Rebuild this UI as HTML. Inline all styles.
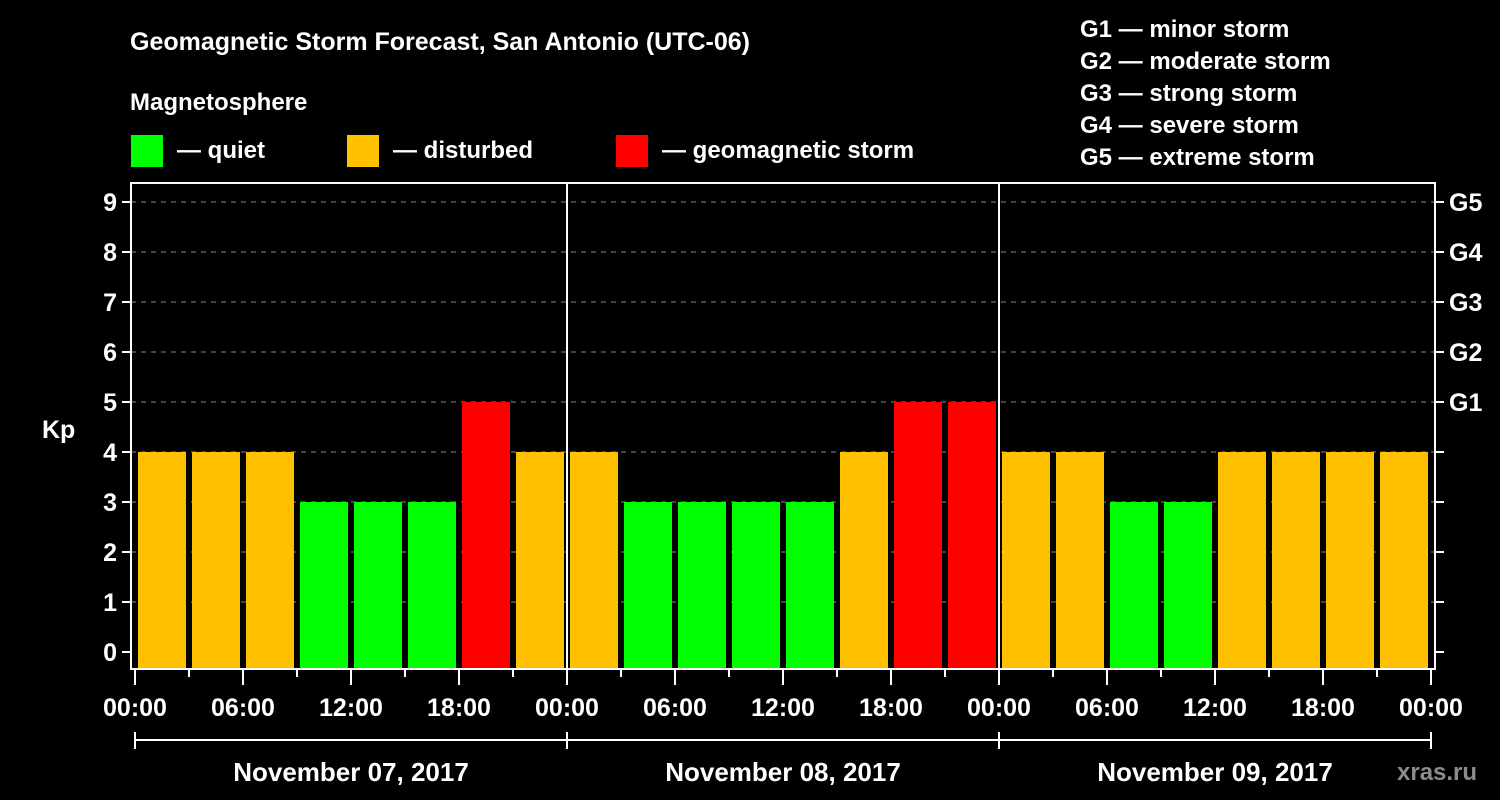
<!DOCTYPE html>
<html><head><meta charset="utf-8"><style>
body{margin:0;background:#000;width:1500px;height:800px;overflow:hidden}
svg{display:block}
text{font-family:"Liberation Sans",sans-serif;font-weight:bold;fill:#fff}
</style></head><body>
<svg id="c" width="1500" height="800">
<text x="130" y="50" font-size="25">Geomagnetic Storm Forecast, San Antonio (UTC-06)</text>
<text x="130" y="110" font-size="24">Magnetosphere</text>
<g><rect x="131" y="135" width="32" height="32" fill="#00ff00"/><text x="177" y="158" font-size="24">— quiet</text></g>
<g><rect x="347" y="135" width="32" height="32" fill="#ffc000"/><text x="393" y="158" font-size="24">— disturbed</text></g>
<g><rect x="616" y="135" width="32" height="32" fill="#ff0000"/><text x="662" y="158" font-size="24">— geomagnetic storm</text></g>
<g font-size="24">
<text x="1080" y="37">G1 — minor storm</text>
<text x="1080" y="69">G2 — moderate storm</text>
<text x="1080" y="101">G3 — strong storm</text>
<text x="1080" y="133">G4 — severe storm</text>
<text x="1080" y="165">G5 — extreme storm</text>
</g>
<text x="42" y="438" font-size="25">Kp</text>
<text x="1397" y="780" font-size="24" fill="#999" style="fill:#8c8c8c">xras.ru</text>
<g id="grid"></g><g id="bars"></g><g id="axes"></g>
</svg>
<script>
const kpValues=[4,4,4,3,3,3,5,4, 4,3,3,3,3,4,5,5, 4,4,3,3,4,4,4,4];
const dayLabels=["November 07, 2017","November 08, 2017","November 09, 2017"];
const hourLabels=["00:00","06:00","12:00","18:00"];
const gLabels=["G1","G2","G3","G4","G5"];
const NS="http://www.w3.org/2000/svg";
const X0=135,DAY=432,SLOT=DAY/8,Y0=652,UNIT=50,TOP=183,BOT=669,LEFT=131,RIGHT=1435;
const xs=i=>X0+i*SLOT, ys=v=>Y0-v*UNIT;
function mk(tag,at,parent,txt){const e=document.createElementNS(NS,tag);for(const k in at)e.setAttribute(k,at[k]);if(txt!==undefined)e.textContent=txt;document.getElementById(parent).appendChild(e);return e;}
function col(v){return v>=5?"#ff0000":v>=4?"#ffc000":"#00ff00";}
for(let k=0;k<=9;k++){
 const y=ys(k);
 if(k>0){const g=mk("line",{x1:LEFT,x2:RIGHT,y1:y,y2:y,stroke:"#888","stroke-width":1,"stroke-dasharray":"5,5"},"grid");
 
 }
 mk("line",{x1:LEFT-9,x2:LEFT,y1:y,y2:y,stroke:"#fff","stroke-width":2},"axes");
 mk("line",{x1:RIGHT,x2:RIGHT+9,y1:y,y2:y,stroke:"#fff","stroke-width":2},"axes");
 const t=mk("text",{x:LEFT-14,y:y+9,"font-size":25,"text-anchor":"end"},"axes",String(k));
 
 
}
gLabels.forEach((g,i)=>{const t=mk("text",{x:1449,y:ys(5+i)+9,"font-size":25},"axes",g);
 
 });
kpValues.forEach((v,i)=>{const r=mk("rect",{x:xs(i)+3,y:ys(v),width:SLOT-6,height:BOT-ys(v),fill:col(v)},"bars");
 
 });
mk("rect",{x:LEFT,y:TOP,width:RIGHT-LEFT,height:BOT-TOP,fill:"none",stroke:"#fff","stroke-width":2},"axes");
for(let d=1;d<3;d++)mk("line",{x1:X0+d*DAY,x2:X0+d*DAY,y1:TOP,y2:BOT,stroke:"#fff","stroke-width":2},"axes");
for(let i=0;i<=24;i++){
 const x=xs(i),major=i%2===0;
 mk("line",{x1:x,x2:x,y1:BOT,y2:BOT+(major?16:8),stroke:"#fff","stroke-width":2},"axes");
 if(major){const t=mk("text",{x:x,y:716,"font-size":25,"text-anchor":"middle"},"axes",hourLabels[(i/2)%4]);
 
 }
}
mk("line",{x1:X0,x2:X0+3*DAY,y1:740,y2:740,stroke:"#fff","stroke-width":2},"axes");
for(let d=0;d<=3;d++)mk("line",{x1:X0+d*DAY,x2:X0+d*DAY,y1:732,y2:749,stroke:"#fff","stroke-width":2},"axes");
dayLabels.forEach((l,d)=>{const t=mk("text",{x:X0+d*DAY+DAY/2,y:781,"font-size":26,"text-anchor":"middle"},"axes",l);
 
 });
</script>
</body></html>
